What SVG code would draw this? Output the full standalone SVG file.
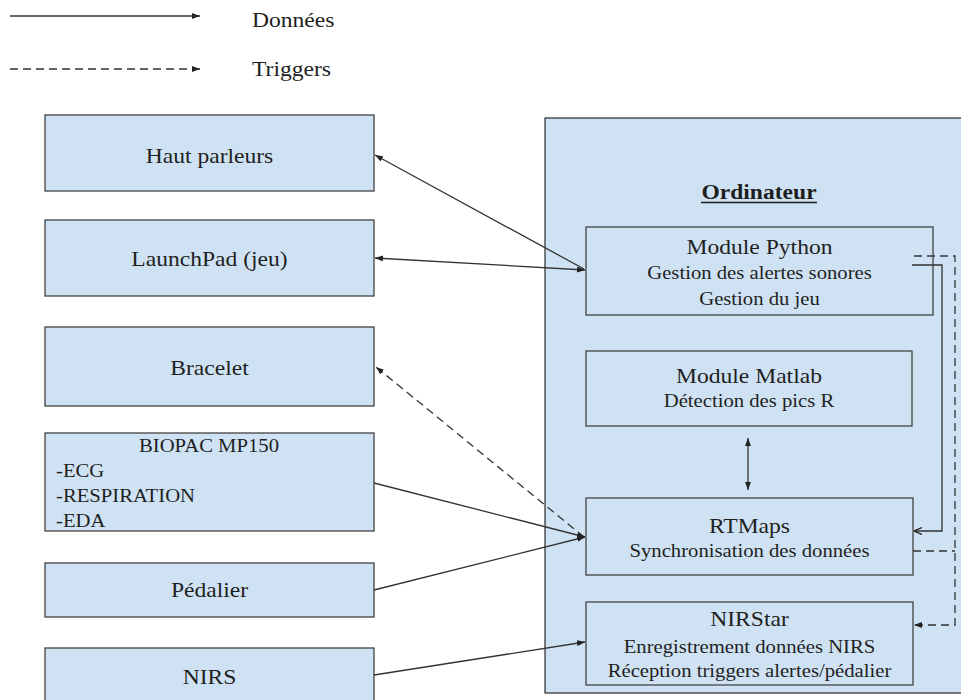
<svg xmlns="http://www.w3.org/2000/svg" width="961" height="700" viewBox="0 0 961 700">
<style>
.box{fill:#cfe2f3;stroke:#434343;stroke-width:1.3}
.outer{fill:#cfe2f3;stroke:#000;stroke-width:1}
text{font-family:"Liberation Serif",Tinos,"DejaVu Serif",serif;fill:#1f1f1f}
.t{text-anchor:middle}
.big{font-size:20.5px}
.sm{font-size:18px}
.c{fill:none;stroke:#333;stroke-width:1.3}
.d{stroke-dasharray:8 5}
</style>
<defs>
<marker id="a" viewBox="0 0 8 6" refX="8" refY="3" markerWidth="8" markerHeight="6" markerUnits="userSpaceOnUse" orient="auto-start-reverse"><path d="M0,0 L8,3 L0,6 z" fill="#222"/></marker>
<marker id="v" viewBox="0 0 8 8" refX="8" refY="4" markerWidth="8" markerHeight="8" markerUnits="userSpaceOnUse" orient="auto"><path d="M0,0.5 L8,4 L0,7.5" fill="none" stroke="#222" stroke-width="1.2"/></marker>
</defs>
<rect width="961" height="700" fill="#fff"/>

<g id="legend">
<line class="c" x1="10" y1="16" x2="200" y2="16" marker-end="url(#a)"/>
<line class="c d" x1="10" y1="69" x2="200" y2="69" marker-end="url(#a)"/>
<text class="big" font-family="Liberation Serif, serif" transform="translate(252 27) scale(1.15 1)">Données</text>
<text class="big" font-family="Liberation Serif, serif" transform="translate(252 76) scale(1.15 1)">Triggers</text>
</g>

<g id="ordinateur">
<rect class="outer" x="545" y="118" width="420" height="575"/>
<text class="t big" font-weight="bold" transform="translate(759 199) scale(1.15 1)">Ordinateur</text>
<line x1="701" y1="202.5" x2="817" y2="202.5" stroke="#1f1f1f" stroke-width="1.5"/>
</g>

<g id="haut-parleurs">
<rect class="box" x="45" y="115" width="329" height="76"/>
<text class="t big" transform="translate(209.5 163) scale(1.15 1)">Haut parleurs</text>
</g>
<g id="launchpad">
<rect class="box" x="45" y="220" width="329" height="76"/>
<text class="t big" transform="translate(209.5 266) scale(1.15 1)">LaunchPad (jeu)</text>
</g>
<g id="bracelet">
<rect class="box" x="45" y="327" width="329" height="79"/>
<text class="t big" transform="translate(209.5 375) scale(1.15 1)">Bracelet</text>
</g>
<g id="biopac">
<rect class="box" x="45" y="433" width="329" height="98"/>
<text class="t sm" transform="translate(209 452) scale(1.15 1)">BIOPAC MP150</text>
<text class="sm" transform="translate(56 477) scale(1.15 1)">-ECG</text>
<text class="sm" transform="translate(56 502) scale(1.15 1)">-RESPIRATION</text>
<text class="sm" transform="translate(56 527) scale(1.15 1)">-EDA</text>
</g>
<g id="pedalier">
<rect class="box" x="45" y="563" width="329" height="54"/>
<text class="t big" transform="translate(209.5 597) scale(1.15 1)">Pédalier</text>
</g>
<g id="nirs">
<rect class="box" x="45" y="648" width="329" height="60"/>
<text class="t big" transform="translate(209.5 684) scale(1.15 1)">NIRS</text>
</g>

<g id="python">
<rect class="box" x="586" y="227" width="347" height="88"/>
<text class="t big" transform="translate(759.5 254) scale(1.15 1)">Module Python</text>
<text class="t sm" transform="translate(759.5 279) scale(1.15 1)">Gestion des alertes sonores</text>
<text class="t sm" transform="translate(759.5 305) scale(1.15 1)">Gestion du jeu</text>
</g>
<g id="matlab">
<rect class="box" x="586" y="351" width="326" height="75"/>
<text class="t big" transform="translate(749 383) scale(1.15 1)">Module Matlab</text>
<text class="t sm" transform="translate(749 407) scale(1.15 1)">Détection des pics R</text>
</g>
<g id="rtmaps">
<rect class="box" x="586" y="498" width="327" height="77"/>
<text class="t big" transform="translate(749.5 533) scale(1.15 1)">RTMaps</text>
<text class="t sm" transform="translate(749.5 557) scale(1.15 1)">Synchronisation des données</text>
</g>
<g id="nirstar">
<rect class="box" x="586" y="602" width="327" height="83"/>
<text class="t big" transform="translate(749.5 626) scale(1.15 1)">NIRStar</text>
<text class="t sm" transform="translate(749.5 653) scale(1.15 1)">Enregistrement données NIRS</text>
<text class="t sm" transform="translate(749.5 677) scale(1.15 1)">Réception triggers alertes/pédalier</text>
</g>

<g id="connectors">
<line class="c" x1="584" y1="269" x2="375" y2="155" marker-end="url(#a)"/>
<line class="c" x1="585" y1="270" x2="375" y2="258" marker-start="url(#a)" marker-end="url(#a)"/>
<line class="c d" x1="584" y1="537" x2="376" y2="367" marker-end="url(#a)"/>
<line class="c" x1="374" y1="483" x2="585" y2="537" marker-end="url(#a)"/>
<line class="c" x1="374" y1="590" x2="585" y2="537" marker-end="url(#a)"/>
<line class="c" x1="374" y1="675" x2="585" y2="642" marker-end="url(#a)"/>
<line class="c" x1="748" y1="438" x2="748" y2="490" marker-start="url(#a)" marker-end="url(#a)"/>
<path class="c" d="M912 265 H942 V531 H914" marker-end="url(#v)"/>
<path class="c d" d="M914 256 H955 V625 H914" marker-end="url(#a)"/>
<path class="c d" d="M913 551 H955"/>
</g>
</svg>
